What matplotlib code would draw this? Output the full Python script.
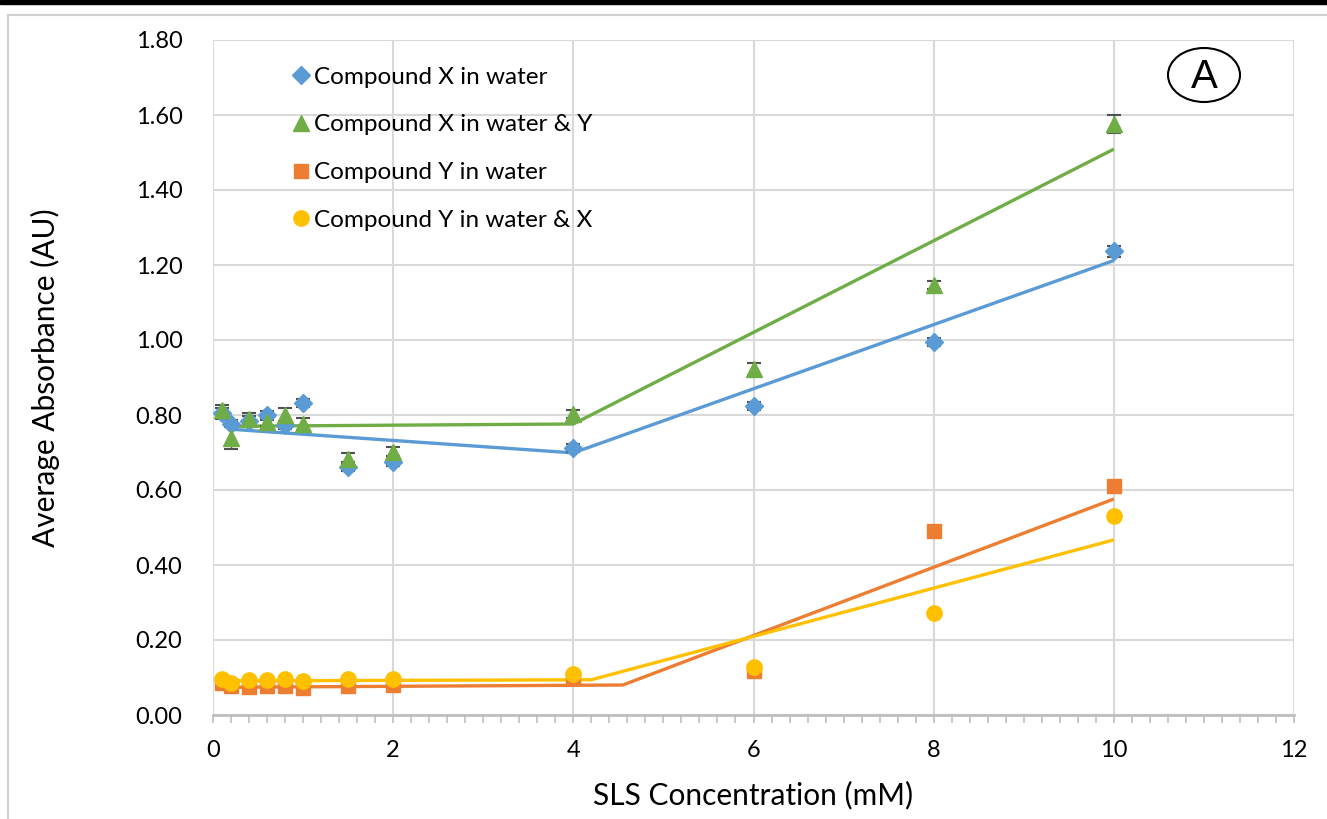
import matplotlib.pyplot as plt
from matplotlib.patches import Ellipse, Rectangle
from matplotlib.ticker import MultipleLocator

# SLS concentration (mM)
conc = [0.1, 0.2, 0.4, 0.6, 0.8, 1.0, 1.5, 2, 4, 6, 8, 10]

# average absorbance (AU)
x_water = [0.805, 0.777, 0.785, 0.800, 0.773, 0.832, 0.662, 0.675, 0.712, 0.824, 0.995, 1.237]
x_water_y = [0.813, 0.740, 0.790, 0.782, 0.800, 0.776, 0.684, 0.702, 0.803, 0.923, 1.147, 1.576]
y_water = [0.085, 0.077, 0.075, 0.078, 0.078, 0.072, 0.078, 0.080, 0.098, 0.118, 0.490, 0.610]
y_water_x = [0.095, 0.086, 0.093, 0.094, 0.095, 0.092, 0.095, 0.097, 0.110, 0.128, 0.272, 0.530]

# standard deviations
x_water_err = [0.015, 0.010, 0.012, 0.012, 0.010, 0.010, 0.012, 0.010, 0.010, 0.010, 0.010, 0.015]
x_water_y_err = [0.015, 0.030, 0.015, 0.010, 0.018, 0.015, 0.015, 0.012, 0.010, 0.015, 0.010, 0.025]

# segmented trendlines (break points)
x_water_fit = ([0.2, 4, 10], [0.762, 0.699, 1.212])
x_water_y_fit = ([0.2, 4, 10], [0.770, 0.776, 1.509])
y_water_fit = ([0.2, 4.55, 10], [0.074, 0.080, 0.576])
y_water_x_fit = ([0.2, 4.2, 10], [0.091, 0.094, 0.467])

labels = ['Compound X in water', 'Compound X in water & Y',
          'Compound Y in water', 'Compound Y in water & X']
colors = ['#5B9BD5', '#70AD47', '#ED7D31', '#FFC000']

plt.rcParams['font.family'] = ['Lato', 'DejaVu Sans']

fig = plt.figure(figsize=(13.27, 8.19), dpi=100)
ax = fig.add_axes([213 / 1327, 1 - 715 / 819, 1081 / 1327, 675 / 819])

# chart frame and top band
fig.add_artist(Rectangle((0, 1 - 4 / 819), 1, 4 / 819, transform=fig.transFigure,
                         color='black', zorder=0))
fig.add_artist(plt.Line2D([8 / 1327, 1], [1 - 15 / 819, 1 - 15 / 819],
                          transform=fig.transFigure, color='#d0d0d0', lw=1.5))
fig.add_artist(plt.Line2D([8 / 1327, 8 / 1327], [0, 1 - 15 / 819],
                          transform=fig.transFigure, color='#d0d0d0', lw=1.5))

# trendlines
for (fx, fy), c in zip([x_water_fit, x_water_y_fit, y_water_fit, y_water_x_fit], colors):
    ax.plot(fx, fy, color=c, lw=2.4, zorder=3, solid_capstyle='butt')

ax.errorbar(conc, x_water, yerr=x_water_err, fmt='none', ecolor='#505050',
            elinewidth=1, capsize=5, capthick=1.5, zorder=4)
ax.errorbar(conc, x_water_y, yerr=x_water_y_err, fmt='none', ecolor='#505050',
            elinewidth=1, capsize=5, capthick=1.5, zorder=4)

ax.plot(conc, x_water, 'D', color=colors[0], ms=9, mec=colors[0], zorder=5, label=labels[0])
ax.plot(conc, x_water_y, '^', color=colors[1], ms=12, mec=colors[1], zorder=5, label=labels[1])
ax.plot(conc, y_water, 's', color=colors[2], ms=10, mec=colors[2], zorder=5, label=labels[2])
ax.plot(conc, y_water_x, 'o', color=colors[3], ms=11, mec=colors[3], zorder=5, label=labels[3])

ax.set_xlim(0, 12)
ax.set_ylim(0, 1.8)
ax.xaxis.set_major_locator(MultipleLocator(2))
ax.xaxis.set_minor_locator(MultipleLocator(0.2))
ax.yaxis.set_major_locator(MultipleLocator(0.2))
ax.yaxis.set_major_formatter(lambda v, p: f'{v:.2f}')

ax.grid(True, which='major', color='#d9d9d9', lw=1.5, zorder=0)
ax.set_axisbelow(True)
for s in ['top', 'right', 'left']:
    ax.spines[s].set_visible(False)
ax.spines['bottom'].set_color('#bfbfbf')
ax.spines['bottom'].set_linewidth(2)
ax.tick_params(axis='x', which='both', direction='out', color='#bfbfbf', width=1.2,
               labelsize=17, pad=12, length=6)
ax.tick_params(axis='y', length=0, labelsize=17, pad=22)

ax.set_xlabel('SLS Concentration (mM)', fontsize=21.5, va='center')
ax.set_ylabel('Average Absorbance (AU)', fontsize=21.5, va='center')
ax.xaxis.set_label_coords(0.5, -(795 - 715) / 675)
ax.yaxis.set_label_coords(-(213 - 45) / 1081, 0.5)

ax.legend(loc='upper left', bbox_to_anchor=(0.063, 0.975), frameon=False,
          fontsize=17.5, handlelength=0.8, handletextpad=0.15, labelspacing=1.1,
          borderaxespad=0)

# circled panel letter
fig.add_artist(Ellipse((1204 / 1327, 1 - 75 / 819), 72 / 1327, 54 / 819,
                       transform=fig.transFigure, fill=False, ec='black', lw=1.5))
fig.text(1204 / 1327, 1 - 77 / 819, 'A', ha='center', va='center', fontsize=29,
         family=['Liberation Sans'])

fig.savefig('out.png', dpi=100)
